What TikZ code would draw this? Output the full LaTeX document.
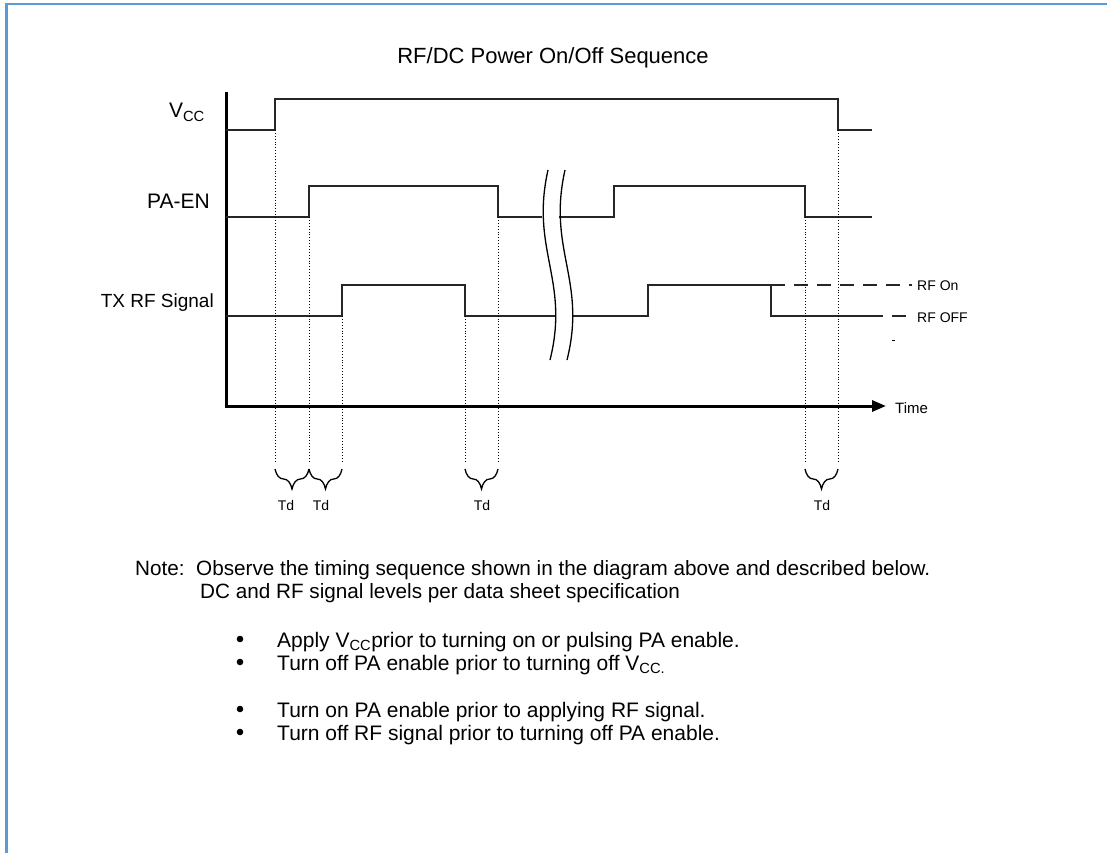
\documentclass[tikz,border=0pt]{standalone}
\usepackage{fontspec}
\setmainfont{Liberation Sans}
\usetikzlibrary{arrows.meta,decorations.pathreplacing}
\definecolor{frameblue}{HTML}{5B9BD5}
\begin{document}
\begin{tikzpicture}[x=1pt,y=-1pt,
  sig/.style={line width=1.4pt,black!85},
  dotline/.style={dotted,line width=0.9pt},
  tdbrace/.style={decorate,decoration={brace,mirror,amplitude=20pt},line width=1.3pt},
  lbl/.style={font=\fontsize{21}{24}\selectfont,inner sep=0pt},
  small/.style={font=\fontsize{14}{16}\selectfont,inner sep=0pt},
  notetxt/.style={font=\fontsize{20.7}{24}\selectfont,inner sep=0pt,anchor=base west},
  bul/.style={font=\fontsize{21}{24}\selectfont,inner sep=0pt,anchor=base west}]
\useasboundingbox (0,0) rectangle (1107,853);
% frame
\draw[frameblue,line width=2.2pt] (6.5,853) -- (6.5,4) -- (1107,4);
% title
\node[lbl,font=\fontsize{22}{26}\selectfont,anchor=base] (title) at (553,64) {RF/DC Power On/Off Sequence};
% axes
\coordinate (o) at (226,406);
\coordinate (ytop) at (226,92);
\coordinate (xend) at (886,406);
\draw[line width=3pt] (ytop) -- (o);
\draw[line width=3pt,-{Triangle[length=14pt,width=11pt]}] ([xshift=-1.5pt]o) -- (xend);
\node[small,font=\fontsize{15}{17}\selectfont,anchor=base west] (time) at (895,413) {Time};
% labels
\node[lbl,anchor=base east] (lvcc) at (205,118) {V\textsubscript{CC}};
\node[lbl,anchor=base east] (lpa) at (210,208) {PA-EN};
\node[lbl,font=\fontsize{19}{22}\selectfont,anchor=base east] (ltx) at (214,307) {TX RF Signal};
% VCC
\draw[sig] (226,130) -- (275,130) -- (275,99) -- (838,99) -- (838,130) -- (872,130);
% PA-EN
\draw[sig] (226,217) -- (309,217) -- (309,186) -- (498,186) -- (498,217) -- (542,217);
\draw[sig] (559,217) -- (614,217) -- (614,186) -- (805,186) -- (805,217) -- (872,217);
% TX RF
\draw[sig] (226,316) -- (342,316) -- (342,285) -- (465,285) -- (465,316) -- (556,316);
\draw[sig] (573,316) -- (648,316) -- (648,285) -- (771,285) -- (771,316) -- (883,316);
\draw[sig] (892,316) -- (906,316);
\draw[sig,dash pattern=on 14pt off 9pt] (771,285) -- (912,285);
\draw[line width=1pt] (892,340) -- (895,340);
\node[small,anchor=base west] (rfon) at (917,290) {RF On};
\node[small,anchor=base west] (rfoff) at (917,322) {RF OFF};
% break
\draw[line width=1.3pt] (548,170) .. controls (530,250) and (570,280) .. (550,360);
\draw[line width=1.3pt] (565,170) .. controls (547,250) and (587,280) .. (567,360);
% dotted guides
\foreach \xx/\yy in {275/130,309/217,342/316,465/316,498/217,805/217,838/130}
  \draw[dotline] (\xx,\yy) -- (\xx,463);
% braces
\draw[tdbrace] (275,469) -- (309,469);
\draw[tdbrace] (309,469) -- (342,469);
\draw[tdbrace] (465,469) -- (498,469);
\draw[tdbrace] (805,469) -- (838,469);
\node[small,anchor=base] (td1) at (286,510) {Td};
\node[small,anchor=base] (td2) at (321,510) {Td};
\node[small,anchor=base] (td3) at (482,510) {Td};
\node[small,anchor=base] (td4) at (822,510) {Td};
% note
\node[notetxt] (n1) at (135,575) {Note:\ \ Observe the timing sequence shown in the diagram above and described below.};
\node[notetxt] (n2) at (200,598) {DC and RF signal levels per data sheet specification};
% bullets
\foreach \yy/\tt in {647/{Apply V\textsubscript{CC}prior to turning on or pulsing PA enable.},
                     670/{Turn off PA enable prior to turning off V\textsubscript{CC.}},
                     717/{Turn on PA enable prior to applying RF signal.},
                     740/{Turn off RF signal prior to turning off PA enable.}}{
  \fill (240,\yy-8) circle (3.3pt);
  \node[bul] at (277,\yy) {\tt};
}
\end{tikzpicture}
\end{document}
